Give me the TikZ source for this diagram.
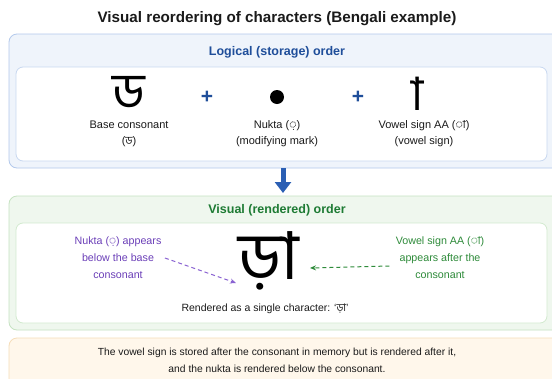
\documentclass[tikz,border=0pt]{standalone}
\usepackage{fontspec}
\setmainfont{Liberation Sans}
\newfontfamily\bn[Script=Bengali]{Hind Siliguri}
\usetikzlibrary{arrows.meta}

\definecolor{ink}{HTML}{1A1A1A}
\definecolor{navy}{HTML}{1F4E9A}
\definecolor{bluefill}{HTML}{EFF4FB}
\definecolor{blueline}{HTML}{B3C9EC}
\definecolor{innerblueline}{HTML}{C8D8F0}
\definecolor{arrowblue}{HTML}{2B5FB4}
\definecolor{greenfill}{HTML}{EFF7EE}
\definecolor{greenline}{HTML}{C6E3C2}
\definecolor{innergreenline}{HTML}{D2EACF}
\definecolor{greenhead}{HTML}{1E7B34}
\definecolor{greennote}{HTML}{2E8B3A}
\definecolor{purplenote}{HTML}{6B3FB8}
\definecolor{purplearrow}{HTML}{8A63D2}
\definecolor{orangefill}{HTML}{FFF7EB}
\definecolor{orangeline}{HTML}{F6DDB8}

% a lone dependent vowel sign, drawn from its glyph so no dotted circle is added
\newcommand{\lonematra}{\XeTeXglyph\XeTeXcharglyph"09BE\relax}

\begin{document}
\begin{tikzpicture}[x=1pt,y=-1pt,
  title/.style={font=\fontsize{15.2}{18}\selectfont\bfseries, text=ink},
  panelhead/.style={font=\fontsize{12.5}{15}\selectfont\bfseries},
  panel/.style={rounded corners=8pt, line width=0.8pt},
  innerbox/.style={rounded corners=7pt, fill=white, line width=0.8pt},
  bigglyph/.style={text=black, inner sep=0pt, anchor=base, text height=0.6em, text depth=0pt},
  plussign/.style={font=\fontsize{21}{21}\selectfont\bfseries, text=navy, inner sep=0pt},
  caption/.style={font=\fontsize{11}{16}\selectfont, text=ink, align=center},
  note/.style={font=\fontsize{10.7}{17}\selectfont, align=center},
  pointer/.style={dashed, line width=1pt, dash pattern=on 4pt off 3pt, -{Stealth[length=6pt,width=5pt]}}
]
\useasboundingbox (0,0) rectangle (552,378);
\clip (0,0) rectangle (552,378);
\fill[white] (0,0) rectangle (552,378);

\node[title] (title) at (277,19) {Visual reordering of characters (Bengali example)};

% Logical (storage) order panel
\draw[panel, fill=bluefill, draw=blueline] (9,34) rectangle (570,168);
\node[panelhead, text=navy] (loghead) at (277,52) {Logical (storage) order};
\draw[innerbox, draw=innerblueline] (16,67) rectangle (547,161);

\node[bigglyph, font=\bn\fontsize{50}{50}\selectfont] (base) at (129,108) {ড};
\node[caption] (basecap) at (129,134) {Base consonant\\({\bn ড})};
\node[plussign] (plusa) at (207,97) {+};
\coordinate (nukta) at (277,97);
\fill[black] (nukta) circle (7);
\node[caption] (nuktacap) at (277,134) {Nukta ({\bn ়})\\(modifying mark)};
\node[plussign] (plusb) at (358,97) {+};
\node[bigglyph, font=\bn\fontsize{46}{46}\selectfont] (aa) at (418,110) {\lonematra};
\node[caption] (aacap) at (424,134) {Vowel sign AA ({\bn া})\\(vowel sign)};

% Transition arrow
\coordinate (arrtop) at (283,168);
\coordinate (arrbot) at (283,193);
\draw[arrowblue, line width=5pt, -{Triangle[width=16pt,length=11pt]}] (arrtop) -- (arrbot);

% Visual (rendered) order panel
\draw[panel, fill=greenfill, draw=greenline] (9,196) rectangle (570,330);
\node[panelhead, text=greenhead] (vishead) at (277,210) {Visual (rendered) order};
\draw[innerbox, draw=innergreenline] (16,223) rectangle (547,323);

\node[bigglyph, font=\bn\fontsize{66}{66}\selectfont] (combined) at (269,279) {ড়া};
\node[caption, font=\fontsize{10.5}{16}\selectfont] (combcap) at (265,309) {Rendered as a single character: ‘{\bn ড়া}’};

\node[note, text=purplenote] (nuktanote) at (118,258) {Nukta ({\bn ়}) appears\\below the base\\consonant};
\coordinate (nuktapt) at (236,283);
\draw[pointer, purplearrow] (nuktanote.east) -- (nuktapt);

\node[note, text=greennote] (aanote) at (440,258) {Vowel sign AA ({\bn া})\\appears after the\\consonant};
\coordinate (aapt) at (310,268);
\draw[pointer, greennote] ([shift={(-3pt,-8pt)}]aanote.west) -- (aapt);

% Summary panel
\draw[panel, fill=orangefill, draw=orangeline] (9,338) rectangle (570,400);
\node[caption, font=\fontsize{10.3}{17}\selectfont] (summary) at (277,360.5) {The vowel sign is stored after the consonant in memory but is rendered after it,\\and the nukta is rendered below the consonant.};
\end{tikzpicture}
\end{document}
